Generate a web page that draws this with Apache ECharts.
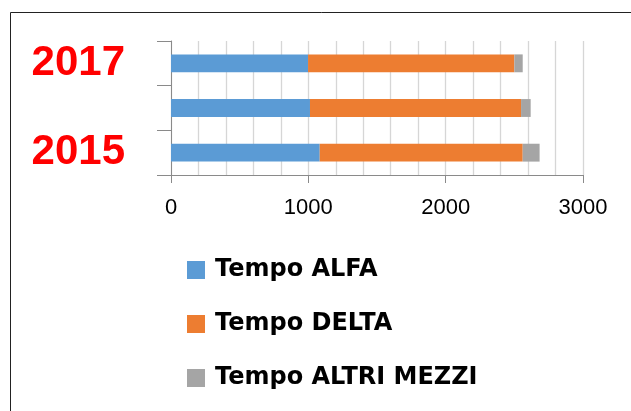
<!DOCTYPE html>
<html><head><meta charset="utf-8">
<script src="https://cdn.jsdelivr.net/npm/echarts@6/dist/echarts.min.js"></script>
<style>html,body{margin:0;padding:0;background:#fff}#c{width:631px;height:411px}</style>
</head><body><div id="c"></div>
<script>
var categories = ['2015', '2016', '2017'];
var tempoAlfa = [1083, 1012, 998];
var tempoDelta = [1478, 1537, 1502];
var tempoAltri = [123, 70, 61];
var seriesNames = ['Tempo ALFA', 'Tempo DELTA', 'Tempo ALTRI MEZZI'];
var colors = ['#5B9BD5', '#ED7D31', '#A5A5A5'];

var chart = echarts.init(document.getElementById('c'), null, {renderer: 'canvas'});
var axisGray = '#8a8a8a';
var gridGray = '#d6d6d6';
function bar(name, data, color) {
  return {name: name, type: 'bar', stack: 't', data: data, barWidth: '40%',
    itemStyle: {color: color}, animation: false};
}
chart.setOption({
  animation: false,
  color: colors,
  graphic: [{type: 'rect', shape: {x: 10.5, y: 12.5, width: 800, height: 600},
    style: {fill: 'none', stroke: '#222', lineWidth: 1}, silent: true}],
  grid: {left: 171, right: 48, top: 41, bottom: 236, containLabel: false},
  legend: {
    orient: 'vertical', left: 187, top: 258, padding: 0, itemWidth: 18, itemHeight: 18, itemGap: 30,
    icon: 'rect',
    data: seriesNames,
    textStyle: {fontFamily: 'DejaVu Sans', fontWeight: 'bold', fontSize: 24, color: '#000',
      lineHeight: 24, padding: [0, 0, 0, 5]}
  },
  xAxis: {
    type: 'value', min: 0, max: 3000, interval: 1000,
    axisLine: {show: true, lineStyle: {color: axisGray, width: 1}},
    axisTick: {show: true, length: 8, lineStyle: {color: axisGray}},
    axisLabel: {fontFamily: 'Liberation Sans', fontSize: 22, color: '#000', margin: 22,
      formatter: function (v) { return String(v); }},
    splitLine: {show: true, lineStyle: {color: gridGray, width: 1.3}},
    minorTick: {show: false, splitNumber: 5},
    minorSplitLine: {show: true, lineStyle: {color: gridGray, width: 1.3}}
  },
  yAxis: {
    type: 'category', data: categories,
    axisLine: {show: true, lineStyle: {color: axisGray, width: 1}},
    axisTick: {show: true, length: 14, interval: 0, lineStyle: {color: axisGray}},
    axisLabel: {interval: 1, fontFamily: 'Liberation Sans', fontWeight: 'bold', fontSize: 42,
      color: '#FF0000', margin: 46},
    splitLine: {show: false}
  },
  series: [bar(seriesNames[0], tempoAlfa, colors[0]), bar(seriesNames[1], tempoDelta, colors[1]),
    bar(seriesNames[2], tempoAltri, colors[2])]
});
</script></body></html>
